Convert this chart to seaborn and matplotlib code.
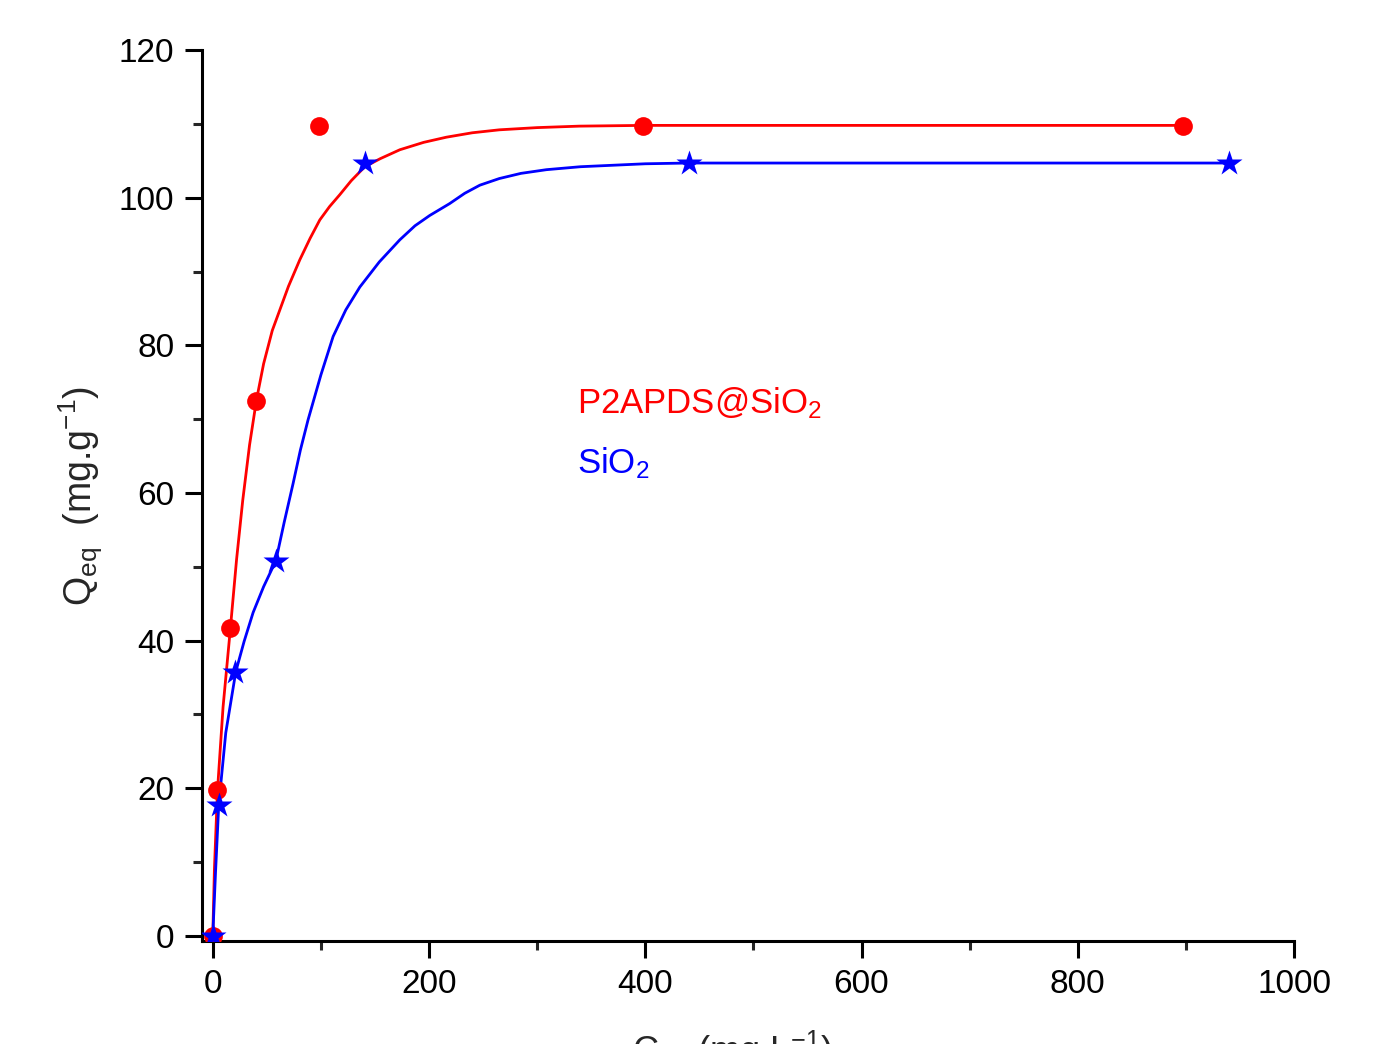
import numpy as np
import pandas as pd
import matplotlib
matplotlib.use('Agg')
import matplotlib.pyplot as plt
import seaborn as sns
from matplotlib.ticker import AutoMinorLocator, MultipleLocator

ceq_red = [0, 3.7, 15.7, 39.7, 98, 398, 897]
qeq_red = [0, 19.7, 41.7, 72.5, 109.7, 109.7, 109.7]
ceq_blue = [0, 5.5, 20.3, 58.3, 140.6, 440, 939.6]
qeq_blue = [0, 17.7, 35.8, 50.8, 104.7, 104.7, 104.7]

# fitted curves
fit_x_red = [0, 1.5, 4.3, 9.5, 16.3, 22, 27.7, 34, 40.4, 47, 55, 62, 70, 80.5,
             90, 99, 108, 117.4, 128, 140.6, 155, 173, 195, 216, 240, 265, 300,
             339, 398, 897]
fit_y_red = [0, 9, 19.6, 31, 41.7, 51, 59, 66.5, 72.6, 77.5, 82, 84.8, 88, 91.6,
             94.5, 97, 98.8, 100.4, 102.3, 104.2, 105.3, 106.5, 107.5, 108.2,
             108.8, 109.2, 109.5, 109.7, 109.8, 109.8]
fit_x_blue = [0, 2.5, 5.5, 12, 21.3, 29, 37.3, 47, 58.3, 66, 74.3, 81, 88.1, 100,
              111.3, 123, 136, 154, 173, 187, 200.7, 219, 233, 247, 265, 285,
              308.6, 340, 370, 400, 439.5, 939.6]
fit_y_blue = [0, 8.5, 17.7, 27.5, 35.8, 39.9, 43.8, 47.3, 50.8, 56, 61.3, 65.8,
              69.9, 76, 81.2, 84.8, 87.9, 91.3, 94.3, 96.2, 97.6, 99.2, 100.6,
              101.7, 102.6, 103.3, 103.8, 104.2, 104.4, 104.6, 104.7, 104.7]

labels = ['P2APDS@SiO$_2$', 'SiO$_2$']

sns.set_style('ticks')
plt.rcParams['font.family'] = ['Liberation Sans', 'DejaVu Sans']
plt.rcParams['mathtext.fontset'] = 'custom'
plt.rcParams['mathtext.rm'] = 'Liberation Sans'
plt.rcParams['mathtext.it'] = 'Liberation Sans'
plt.rcParams['mathtext.default'] = 'regular'

fig = plt.figure(figsize=(13.74, 10.44), dpi=100)
ax = fig.add_axes([0.147, 0.0987, 0.7948, 0.8533])

red = '#FF0000'
blue = '#0000FF'

sns.lineplot(x=fit_x_red, y=fit_y_red, ax=ax, color=red, lw=2, sort=False,
             estimator=None)
sns.lineplot(x=fit_x_blue, y=fit_y_blue, ax=ax, color=blue, lw=2, sort=False,
             estimator=None)
ax.plot(ceq_red, qeq_red, 'o', color=red, ms=13.5, mec='none', zorder=3)
ax.plot(ceq_blue, qeq_blue, '*', color=blue, ms=19, mec='none', zorder=4)

ax.set_xlim(-10, 1000)
ax.set_ylim(-0.7, 120)
ax.xaxis.set_major_locator(MultipleLocator(200))
ax.yaxis.set_major_locator(MultipleLocator(20))
ax.xaxis.set_minor_locator(AutoMinorLocator(2))
ax.yaxis.set_minor_locator(AutoMinorLocator(2))

for s in ['top', 'right']:
    ax.spines[s].set_visible(False)
for s in ['left', 'bottom']:
    ax.spines[s].set_linewidth(2.2)
    ax.spines[s].set_color('black')

ax.tick_params(which='major', direction='out', length=12, width=2.2,
               labelsize=24, pad=8, colors='black')
ax.tick_params(which='minor', direction='out', length=6.5, width=2.2)

ax.set_xlabel('C$_{eq}$ (mg.L$^{-1}$)', fontsize=26)
ax.xaxis.set_label_coords(0.485, -0.098, transform=ax.transAxes)
ax.xaxis.label.set_va('top')
ax.set_ylabel('Q$_{eq}$  (mg.g$^{-1}$)', fontsize=27, labelpad=10)

ax.text(337, 70.8, labels[0], color=red, fontsize=25, va='baseline')
ax.text(337, 62.7, labels[1], color=blue, fontsize=25, va='baseline')

fig.savefig('out.png', dpi=100)
